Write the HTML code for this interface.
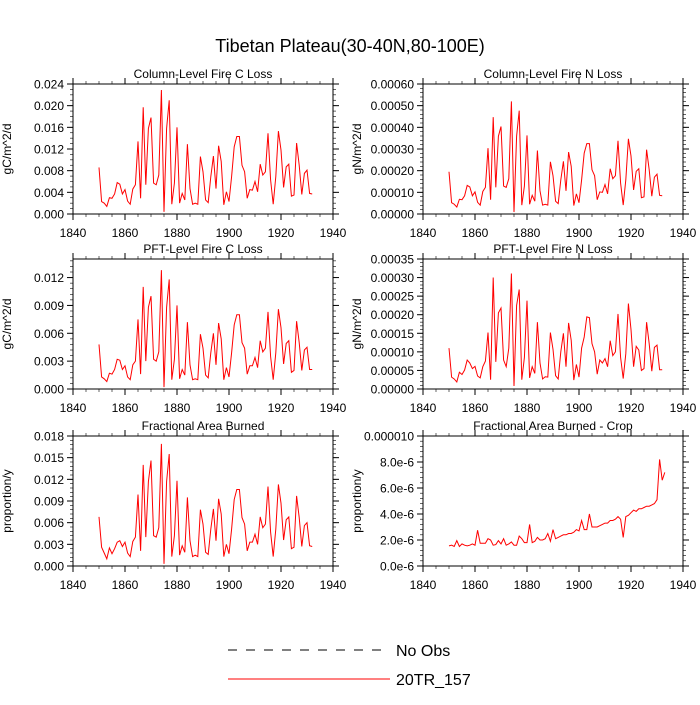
<!DOCTYPE html>
<html><head><meta charset="utf-8">
<style>
body{margin:0;background:#fff;}
svg text{font-family:"Liberation Sans",sans-serif;fill:#000;}
</style></head>
<body>
<svg id="c" width="700" height="700" xmlns="http://www.w3.org/2000/svg">
<text x="350" y="52" font-size="18" text-anchor="middle">Tibetan Plateau(30-40N,80-100E)</text>
<g>
<line x1="228" y1="650" x2="388" y2="650" stroke="#000" stroke-width="1" stroke-dasharray="9,9"/>
<text x="396" y="656" font-size="16">No Obs</text>
<line x1="228" y1="679" x2="390" y2="679" stroke="#f00" stroke-width="1"/>
<text x="396" y="685" font-size="16">20TR_157</text>
</g>
</svg>
<script>
const startYear = 1850;
const xTicks = [1840,1860,1880,1900,1920,1940];
const colCLoss = [8.6,2.3,2.0,1.4,3.0,2.9,3.7,5.8,5.5,3.7,4.5,2.4,1.8,4.6,5.4,13.4,2.9,19.7,5.4,15.8,17.8,5.7,5.4,7.2,22.9,0.4,15.8,21.0,1.8,5.7,16.0,2.0,3.8,2.6,12.9,4.7,1.8,2.0,1.8,10.6,7.8,2.6,2.1,6.9,10.7,4.7,12.6,9.7,1.7,4.1,2.3,6.9,12.4,14.3,14.3,9.0,7.8,2.9,4.5,4.4,6.0,4.1,9.2,7.2,7.8,14.9,6.3,1.8,6.9,15.3,11.8,4.9,8.7,9.2,3.3,3.5,13.1,9.0,3.6,7.5,8.1,3.8,3.7];
const colNLoss = [1.95,0.52,0.45,0.32,0.68,0.66,0.84,1.32,1.25,0.84,1.02,0.54,0.41,1.04,1.23,3.04,0.66,4.47,1.23,3.59,4.04,1.29,1.23,1.63,5.2,0.09,3.59,4.77,0.41,1.29,3.63,0.45,0.86,0.59,2.93,1.07,0.41,0.45,0.41,2.41,1.77,0.59,0.48,1.57,2.43,1.07,2.86,2.2,0.39,0.93,0.52,1.57,2.81,3.25,3.25,2.04,1.77,0.66,1.02,1.0,1.36,0.93,2.09,1.63,1.77,3.38,1.43,0.41,1.57,3.47,2.68,1.11,1.97,2.09,0.75,0.79,2.97,2.04,0.82,1.7,1.84,0.86,0.84];
const pftCLoss = [4.8,1.3,1.1,0.8,1.7,1.6,2.1,3.2,3.1,2.1,2.5,1.3,1.0,2.6,3.0,7.5,1.6,11.0,3.0,8.8,10.0,3.2,3.0,4.0,12.8,0.2,8.8,11.8,1.0,3.2,9.0,1.1,2.1,1.5,7.2,2.6,1.0,1.1,1.0,5.9,4.4,1.5,1.2,3.9,6.0,2.6,7.1,5.4,1.0,2.3,1.3,3.9,6.9,8.0,8.0,5.0,4.4,1.6,2.5,2.5,3.4,2.3,5.2,4.0,4.4,8.3,3.5,1.0,3.9,8.6,6.6,2.7,4.9,5.2,1.8,2.0,7.3,5.0,2.0,4.2,4.5,2.1,2.1];
const pftNLoss = [1.1,.32,.27,.19,.45,.39,.51,.78,.7,.55,.61,.35,.3,.6,.75,1.52,.25,3.0,.73,2.05,2.18,.78,.6,1.1,3.11,.08,2.25,2.68,.25,.85,2.38,.3,.6,.42,1.8,.7,.27,.33,.32,1.52,1.07,.36,.27,1.0,1.5,.6,1.78,1.31,.24,.66,.32,1.1,1.4,1.94,1.92,1.22,1.0,.4,.78,.7,.82,.6,1.3,.9,1.0,2.02,.85,.28,.95,2.3,1.6,.6,1.15,1.05,.5,.55,1.8,1.22,.48,1.12,1.18,.52,.52];
const areaBurned = [6.8,2.6,1.8,1.0,2.5,1.7,2.4,3.3,3.5,2.7,3.3,1.8,1.3,3.4,4.0,9.9,2.1,14.0,4.0,11.7,14.6,4.2,4.0,5.3,16.9,0.3,11.7,15.5,1.3,4.2,11.8,1.5,2.8,1.9,9.5,3.5,1.3,1.5,1.3,7.8,5.8,1.9,1.6,5.1,7.9,3.5,9.3,7.2,1.3,3.0,1.7,5.1,9.2,10.6,10.6,6.7,5.8,2.1,3.3,3.3,4.4,3.0,6.8,5.3,5.8,11.0,4.7,1.3,5.1,11.3,8.7,3.6,6.4,6.8,2.4,2.6,9.7,6.7,2.7,5.6,6.0,2.8,2.7];
const areaBurnedCrop = [1.55,1.6,1.5,1.95,1.5,1.7,1.6,1.55,1.6,1.7,1.6,2.75,1.75,1.75,1.75,2.1,2.0,1.6,1.65,1.95,1.7,2.1,1.6,1.7,1.85,1.6,1.6,2.3,2.1,1.8,1.8,3.2,1.8,1.9,2.2,2.0,2.0,2.1,2.5,1.9,2.8,2.1,2.2,2.3,2.4,2.4,2.5,2.5,2.6,2.8,2.7,3.5,2.8,2.8,4.0,3.0,3.0,3.0,3.1,3.2,3.3,3.3,3.5,3.5,3.6,3.8,3.6,2.2,3.8,3.9,4.1,4.3,4.2,4.4,4.4,4.5,4.6,4.6,4.7,4.8,5.1,8.2,6.6,7.2];
const ticksColC = ["0.000","0.004","0.008","0.012","0.016","0.020","0.024"];
const ticksColN = ["0.00000","0.00010","0.00020","0.00030","0.00040","0.00050","0.00060"];
const ticksPftC = ["0.000","0.003","0.006","0.009","0.012"];
const ticksPftN = ["0.00000","0.00005","0.00010","0.00015","0.00020","0.00025","0.00030","0.00035"];
const ticksArea = ["0.000","0.003","0.006","0.009","0.012","0.015","0.018"];
const ticksCrop = ["0.0e-6","2.0e-6","4.0e-6","6.0e-6","8.0e-6","0.000010"];

const NS="http://www.w3.org/2000/svg";
const svg=document.getElementById('c');
function mk(tag,attrs,parent){const e=document.createElementNS(NS,tag);for(const k in attrs)e.setAttribute(k,attrs[k]);(parent||svg).appendChild(e);return e;}

const panels=[
 {name:'column-c-loss',title:'Column-Level Fire C Loss',ylab:'gC/m^2/d',x0:73,y0:84,data:colCLoss,scale:1e-3,ymax:0.024,major:0.004,minor:0.001,labels:ticksColC},
 {name:'column-n-loss',title:'Column-Level Fire N Loss',ylab:'gN/m^2/d',x0:423,y0:84,data:colNLoss,scale:1e-4,ymax:0.0006,major:0.0001,minor:0.00002,labels:ticksColN},
 {name:'pft-c-loss',title:'PFT-Level Fire C Loss',ylab:'gC/m^2/d',x0:73,y0:259,data:pftCLoss,scale:1e-3,ymax:0.014,major:0.003,minor:0.0006,labels:ticksPftC},
 {name:'pft-n-loss',title:'PFT-Level Fire N Loss',ylab:'gN/m^2/d',x0:423,y0:259,data:pftNLoss,scale:1e-4,ymax:0.00035,major:0.00005,minor:0.00001,labels:ticksPftN},
 {name:'area-burned',title:'Fractional Area Burned',ylab:'proportion/y',x0:73,y0:436,data:areaBurned,scale:1e-3,ymax:0.018,major:0.003,minor:0.0006,labels:ticksArea},
 {name:'area-burned-crop',title:'Fractional Area Burned - Crop',ylab:'proportion/y',x0:423,y0:436,data:areaBurnedCrop,scale:1e-6,ymax:0.00001,major:0.000002,minor:0.0000004,labels:ticksCrop}
];
const W=260,H=130;
panels.forEach(p=>{
 const g=mk('g',{});
 
 
 const xs=v=>p.x0+(v-1840)/100*W;
 const ys=v=>p.y0+H-(v/p.ymax)*H;
 const t=mk('text',{x:p.x0+W/2,y:p.y0-6,'font-size':12,'text-anchor':'middle'},g);t.textContent=p.title;
 
 
 const yl=mk('text',{x:0,y:0,'font-size':12,'text-anchor':'middle',transform:`translate(${p.x0-62},${p.y0+H/2}) rotate(-90)`},g);yl.textContent=p.ylab;
 
 
 // minor y ticks
 const nMin=Math.round(p.ymax/p.minor);
 for(let i=0;i<=nMin;i++){const y=ys(i*p.minor);
  mk('line',{x1:p.x0-3,x2:p.x0,y1:y,y2:y,stroke:'#000','stroke-width':0.6},g);
  mk('line',{x1:p.x0+W,x2:p.x0+W+3,y1:y,y2:y,stroke:'#000','stroke-width':0.6},g);}
 p.labels.forEach((lab,i)=>{const y=ys(i*p.major);
  mk('line',{x1:p.x0-6,x2:p.x0,y1:y,y2:y,stroke:'#000','stroke-width':1},g);
  mk('line',{x1:p.x0+W,x2:p.x0+W+6,y1:y,y2:y,stroke:'#000','stroke-width':1},g);
  const tl=mk('text',{x:p.x0-9,y:y+4.5,'font-size':12,'text-anchor':'end'},g);tl.textContent=lab;
  
  });
 for(let yr=1840;yr<=1940;yr+=5){const x=xs(yr),L=(yr%20===0)?6:3;
  mk('line',{x1:x,x2:x,y1:p.y0+H,y2:p.y0+H+L,stroke:'#000','stroke-width':yr%20===0?1:0.6},g);
  mk('line',{x1:x,x2:x,y1:p.y0-L,y2:p.y0,stroke:'#000','stroke-width':yr%20===0?1:0.6},g);}
 xTicks.forEach(yr=>{const tl=mk('text',{x:xs(yr),y:p.y0+H+23,'font-size':12,'text-anchor':'middle'},g);tl.textContent=yr;
  
  });
 const fr=mk('rect',{x:p.x0,y:p.y0,width:W,height:H,fill:'none',stroke:'#000','stroke-width':1},g);
 
 
 const pts=p.data.map((v,i)=>xs(startYear+i).toFixed(2)+','+ys(v*p.scale).toFixed(2)).join(' ');
 const ln=mk('polyline',{points:pts,fill:'none',stroke:'#f00','stroke-width':1},g);
 
 
});
</script>
</body></html>
